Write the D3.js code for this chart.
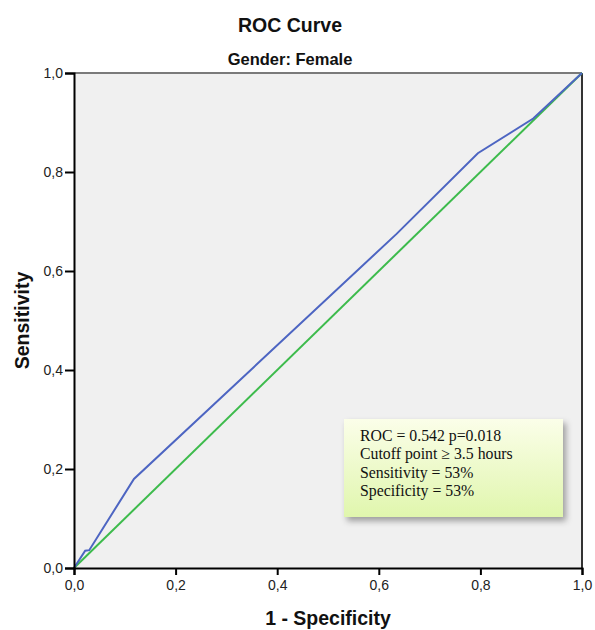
<!DOCTYPE html>
<html><head><meta charset="utf-8">
<script src="https://cdn.jsdelivr.net/npm/d3@7"></script>
<style>body{margin:0;background:#fff}svg{display:block}</style>
</head><body>
<script>
const title = "ROC Curve";
const subtitle = "Gender: Female";
const xLabel = "1 - Specificity";
const yLabel = "Sensitivity";
const tickValues = [0, 0.2, 0.4, 0.6, 0.8, 1.0];
const tickLabels = ["0,0", "0,2", "0,4", "0,6", "0,8", "1,0"];
const rocFpr = [0, 0.022, 0.03, 0.118, 0.635, 0.795, 0.904, 1];
const rocTpr = [0, 0.035, 0.036, 0.18, 0.675, 0.838, 0.908, 1];
const refFpr = [0, 1];
const refTpr = [0, 1];
const noteLines = ["ROC = 0.542 p=0.018", "Cutoff point \u2265 3.5 hours", "Sensitivity = 53%", "Specificity = 53%"];

const W = 595, H = 630;
const L = 74, R = 582, T = 73, B = 568;
const svg = d3.select("body").append("svg").attr("width", W).attr("height", H);
const x = d3.scaleLinear().domain([0, 1]).range([L, R]);
const y = d3.scaleLinear().domain([0, 1]).range([B, T]);

const defs = svg.append("defs");
const g1 = defs.append("linearGradient").attr("id", "boxg").attr("x1", 0).attr("y1", 0).attr("x2", 0).attr("y2", 1);
g1.append("stop").attr("offset", "0%").attr("stop-color", "#fbfee9");
g1.append("stop").attr("offset", "100%").attr("stop-color", "#e0f6ad");
const f = defs.append("filter").attr("id", "sh").attr("x", "-10%").attr("y", "-10%").attr("width", "130%").attr("height", "140%");
f.append("feDropShadow").attr("dx", 3).attr("dy", 4).attr("stdDeviation", 3).attr("flood-color", "#000").attr("flood-opacity", 0.35);

svg.append("rect").attr("x", L).attr("y", T).attr("width", R - L).attr("height", B - T).attr("fill", "#f0f0f0");
svg.append("line").attr("x1", L).attr("x2", R).attr("y1", T).attr("y2", T).attr("stroke", "#7a7a7a").attr("stroke-width", 2);
svg.append("line").attr("x1", R).attr("x2", R).attr("y1", T).attr("y2", B).attr("stroke", "#333").attr("stroke-width", 2);

const line = d3.line().x(d => x(d[0])).y(d => y(d[1]));
svg.append("path").datum(refFpr.map((v, i) => [v, refTpr[i]])).attr("d", line)
  .attr("fill", "none").attr("stroke", "#3dbb4c").attr("stroke-width", 2);
svg.append("path").datum(rocFpr.map((v, i) => [v, rocTpr[i]])).attr("d", line)
  .attr("fill", "none").attr("stroke", "#4d65c2").attr("stroke-width", 2);

const fmt = d => tickLabels[tickValues.indexOf(d)];
const xa = svg.append("g").attr("transform", `translate(0,${B})`)
  .call(d3.axisBottom(x).tickValues(tickValues).tickFormat(fmt).tickSize(7).tickPadding(5));
const ya = svg.append("g").attr("transform", `translate(${L},0)`)
  .call(d3.axisLeft(y).tickValues(tickValues).tickFormat(fmt).tickSize(9).tickPadding(2));
[xa, ya].forEach(a => {
  a.select(".domain").attr("stroke", "#000").attr("stroke-width", 2);
  a.selectAll(".tick line").attr("stroke", "#000").attr("stroke-width", 2);
  a.selectAll("text").attr("font-family", "Liberation Sans, Arial, sans-serif").attr("font-size", 14).attr("fill", "#222");
});

svg.append("text").attr("x", 290).attr("y", 32).attr("text-anchor", "middle")
  .attr("font-family", "Liberation Sans, Arial, sans-serif").attr("font-weight", "bold").attr("font-size", 19.5).attr("fill", "#111").text(title);
svg.append("text").attr("x", 290).attr("y", 65).attr("text-anchor", "middle")
  .attr("font-family", "Liberation Sans, Arial, sans-serif").attr("font-weight", "bold").attr("font-size", 16.5).attr("fill", "#111").text(subtitle);
svg.append("text").attr("x", (L + R) / 2).attr("y", 625).attr("text-anchor", "middle")
  .attr("font-family", "Liberation Sans, Arial, sans-serif").attr("font-weight", "bold").attr("font-size", 19.5).attr("fill", "#111").text(xLabel);
svg.append("text").attr("transform", `translate(29,${(T + B) / 2}) rotate(-90)`).attr("text-anchor", "middle")
  .attr("font-family", "Liberation Sans, Arial, sans-serif").attr("font-weight", "bold").attr("font-size", 19.5).attr("fill", "#111").text(yLabel);

svg.append("rect").attr("x", 344).attr("y", 419).attr("width", 219).attr("height", 98)
  .attr("fill", "url(#boxg)").attr("filter", "url(#sh)");
const nt = svg.append("text").attr("font-family", "Liberation Serif, Times New Roman, serif").attr("font-size", 15.8).attr("fill", "#111");
noteLines.forEach((s, i) => nt.append("tspan").attr("x", 360).attr("y", 441 + i * 18.3).text(s));
</script>
</body></html>
